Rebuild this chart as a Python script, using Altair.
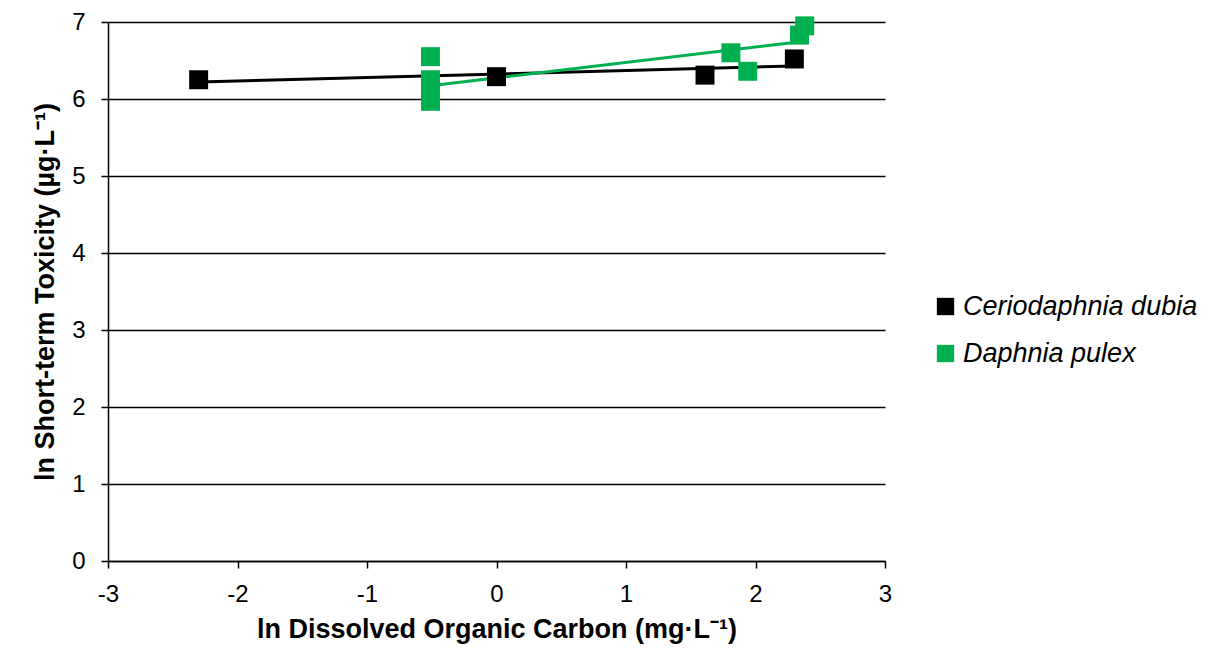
import altair as alt
import pandas as pd

species = ["Ceriodaphnia dubia"] * 4 + ["Daphnia pulex"] * 9
x_vals = [-2.30, 0.00, 1.61, 2.30,
          -0.51, -0.51, -0.51, -0.51, -0.51, 1.81, 1.94, 2.34, 2.38]
y_vals = [6.25, 6.29, 6.31, 6.52,
          6.55, 6.25, 6.12, 6.02, 5.97, 6.60, 6.36, 6.83, 6.95]

x_ticks = [-3, -2, -1, 0, 1, 2, 3]
y_ticks = [0, 1, 2, 3, 4, 5, 6, 7]
colors = ["#000000", "#00B050"]
names = ["Ceriodaphnia dubia", "Daphnia pulex"]

df = pd.DataFrame({"species": species, "x": x_vals, "y": y_vals})

FONT = "Liberation Sans"

xenc = alt.X("x:Q", scale=alt.Scale(domain=[-3, 3], nice=False),
             axis=alt.Axis(values=x_ticks, title="ln Dissolved Organic Carbon (mg·L⁻¹)",
                           labelExpr="datum.value + ''", labelFlush=False,
                           grid=False, tickSize=7, tickColor="black", tickWidth=1.5,
                           domainColor="black", domainWidth=1.5,
                           labelFontSize=24, labelColor="black", labelFont=FONT,
                           labelPadding=14, titleFont=FONT, titleFontSize=27,
                           titleFontWeight="bold", titleColor="black", titlePadding=10))
yenc = alt.Y("y:Q", scale=alt.Scale(domain=[0, 7], nice=False),
             axis=alt.Axis(values=y_ticks, title="ln Short-term Toxicity (µg·L⁻¹)",
                           grid=True, gridColor="black", gridWidth=1.5, gridOpacity=1,
                           tickSize=7, tickColor="black", tickWidth=1.5,
                           domainColor="black", domainWidth=1.5,
                           labelFontSize=24, labelColor="black", labelFont=FONT,
                           labelPadding=16, titleFont=FONT, titleFontSize=27,
                           titleFontWeight="bold", titleColor="black", titlePadding=12))

color = alt.Color("species:N", scale=alt.Scale(domain=names, range=colors),
                  legend=alt.Legend(title=None, orient="none", legendX=824, legendY=271,
                                    symbolType="square", symbolSize=300,
                                    symbolOpacity=1, symbolStrokeWidth=0,
                                    labelFont=FONT, labelFontSize=27,
                                    labelFontStyle="italic", labelColor="black",
                                    rowPadding=19, labelOffset=4, labelLimit=400))

base = alt.Chart(df)

lines = base.transform_regression("x", "y", groupby=["species"]).mark_line(
    strokeWidth=3
).encode(x=xenc, y=yenc, color=color)

points = base.mark_point(shape="square", filled=True, size=360, opacity=1).encode(
    x=xenc, y=yenc, color=color)

chart = alt.layer(lines, points).properties(
    width=777, height=539,
    autosize=alt.AutoSizeParams(type="none"),
    padding={"left": 100, "top": 14, "right": 313, "bottom": 84},
).configure_view(stroke=None)

chart.save("out.html", embed_options={"renderer": "svg", "actions": False})
